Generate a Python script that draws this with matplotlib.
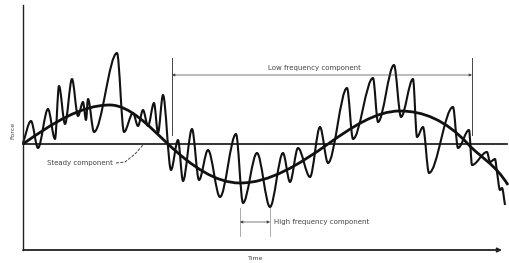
import matplotlib
matplotlib.use("Agg")
import matplotlib.pyplot as plt
from matplotlib.path import Path
from matplotlib.patches import PathPatch

# everything is in picture pixels (x right, y down)

# measured force trace: its turning points
force_x = [23, 31, 38, 48, 55, 59, 65, 72, 78, 83, 86, 88, 94, 117, 124,
           133, 138, 143, 148, 154, 158, 163, 171, 178, 183, 192, 199, 208,
           220, 236, 243, 257, 270, 283, 290, 298, 310, 320, 328, 347, 353,
           373, 378, 394, 401, 413, 417, 423, 429, 453, 458, 469, 472, 487,
           490, 495, 497, 500, 502, 505]
force_y = [143, 121, 148, 109, 139, 86, 124, 79, 116, 102, 120, 99, 132, 53, 132,
           113, 126, 110, 126, 103, 133, 95, 170, 140, 181, 129, 180, 150,
           197, 134, 203, 153, 207, 153, 182, 148, 177, 127, 163, 88, 139,
           78, 122, 65, 117, 79, 137, 127, 173, 107, 148, 130, 165, 152,
           162, 159, 172, 190, 188, 205]

# low frequency component (peaks and zero crossings)
low_x = [23, 110, 168, 240, 328, 400, 468, 508]
low_y = [144, 105, 144, 183, 144, 111, 144, 185]

STEADY = 144
X0, X1 = 23, 502
YTOP, YBOT = 5, 250
GREY = "#444444"


def smooth_path(xs, ys, k=1.0):
    # cubic hermite through the points, flat at the turning points
    n = len(xs)
    m = []
    for i in range(n):
        if 0 < i < n - 1 and (ys[i] - ys[i - 1]) * (ys[i + 1] - ys[i]) <= 0:
            m.append(0.0)
            continue
        a, b = max(i - 1, 0), min(i + 1, n - 1)
        m.append(k * (ys[b] - ys[a]) / (xs[b] - xs[a]))
    verts = [(xs[0], ys[0])]
    codes = [Path.MOVETO]
    for i in range(n - 1):
        dx = xs[i + 1] - xs[i]
        verts += [(xs[i] + dx / 3, ys[i] + m[i] * dx / 3),
                  (xs[i + 1] - dx / 3, ys[i + 1] - m[i + 1] * dx / 3),
                  (xs[i + 1], ys[i + 1])]
        codes += [Path.CURVE4] * 3
    return Path(verts, codes)


fig = plt.figure(figsize=(5.09, 2.63), dpi=100)
ax = fig.add_axes([0, 0, 1, 1])
ax.set_xlim(0, 509)
ax.set_ylim(263, 0)
ax.axis("off")

# axes
ax.plot([X0, X0], [YTOP, YBOT], color="#222222", lw=1.0)
ax.annotate("", xy=(X1, YBOT), xytext=(X0, YBOT),
            arrowprops=dict(arrowstyle="-|>", color="#222222", lw=1.3,
                            mutation_scale=6, shrinkA=0, shrinkB=0))
ax.text(13, 130, "Force", rotation=90, fontsize=4.5, color=GREY,
        ha="center", va="center")
ax.text(256, 259, "Time", fontsize=4.5, color=GREY, ha="center", va="center")

# steady component
ax.plot([X0, 507], [STEADY, STEADY], color="#111111", lw=1.2)
ax.text(47, 163, "Steady component", fontsize=5, color=GREY,
        ha="left", va="center")
ax.plot([116, 125, 135, 143], [163, 162, 154, 145], color=GREY, lw=0.7,
        ls=(0, (3, 1.5)))

# curves
ax.add_patch(PathPatch(smooth_path(low_x, low_y, k=1.57), fc="none",
                       ec="#111111", lw=2.0))
ax.add_patch(PathPatch(smooth_path(force_x, force_y), fc="none",
                       ec="#111111", lw=1.5, joinstyle="round"))

# low frequency bracket
for x in (172, 472):
    ax.plot([x, x], [58, 135], color=GREY, lw=0.7)
ax.annotate("", xy=(472, 75), xytext=(172, 75),
            arrowprops=dict(arrowstyle="<|-|>", color=GREY, lw=0.5,
                            mutation_scale=4, shrinkA=0, shrinkB=0))
ax.text(314, 68, "Low frequency component", fontsize=5, color=GREY,
        ha="center", va="center")

# high frequency bracket
for x in (240, 270):
    ax.plot([x, x], [208, 236], color="#888888", lw=0.5)
ax.annotate("", xy=(270, 222), xytext=(240, 222),
            arrowprops=dict(arrowstyle="<|-|>", color=GREY, lw=0.5,
                            mutation_scale=4, shrinkA=0, shrinkB=0))
ax.text(274, 222, "High frequency component", fontsize=5, color=GREY,
        ha="left", va="center")

fig.savefig("out.png", dpi=100)
